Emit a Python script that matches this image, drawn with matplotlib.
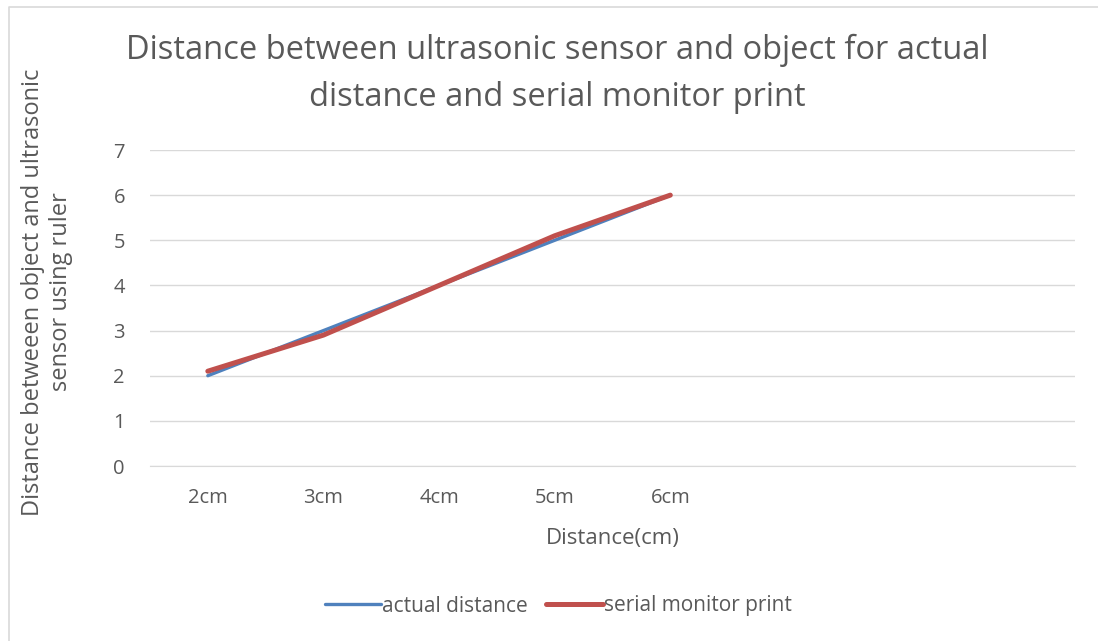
#!/usr/bin/env python3
# Line chart: ultrasonic sensor reading vs actual distance

import matplotlib.pyplot as plt
from matplotlib.lines import Line2D

plt.rcParams['font.family'] = ['Open Sans', 'DejaVu Sans']

# Data
categories = ['2cm', '3cm', '4cm', '5cm', '6cm', '', '', '']
actual_distance = [2, 3, 4, 5, 6]
serial_print = [2.1, 2.9, 4, 5.1, 6]

text_color = '#595959'
grid_color = '#d9d9d9'

fig = plt.figure(figsize=(10.98, 6.41), dpi=100)
W, H = 1098, 641
ax = fig.add_axes([150 / W, 1 - 466 / H, (1075 - 150) / W, (466 - 150) / H])

# Chart border (only top and left edges are visible in the crop)
fig.lines.append(Line2D([8.5 / W, 8.5 / W, 1], [0, 1 - 6.5 / H, 1 - 6.5 / H],
                        transform=fig.transFigure, color=grid_color, linewidth=1.2))

x = list(range(len(actual_distance)))
ax.plot(x, actual_distance, color='#4f81bd', linewidth=2.4, solid_capstyle='round',
        label='actual distance')
ax.plot(x, serial_print, color='#c0504d', linewidth=3.6, solid_capstyle='round',
        label='serial monitor print')

ax.set_xlim(-0.5, len(categories) - 0.5)
ax.set_ylim(0, 7)
ax.set_xticks(range(len(categories)))
ax.set_xticklabels(categories)
ax.set_yticks(range(0, 8))
ax.grid(axis='y', color=grid_color, linewidth=1)
ax.set_axisbelow(True)
for s in ['top', 'right', 'left']:
    ax.spines[s].set_visible(False)
ax.spines['bottom'].set_color(grid_color)
ax.tick_params(axis='x', length=0, pad=16, labelsize=14.5, colors=text_color)
ax.tick_params(axis='y', length=0, pad=18, labelsize=14.5, colors=text_color)

ax.set_xlabel('Distance(cm)', fontsize=16, color=text_color, labelpad=14)
ax.set_ylabel('Distance betweeen object and ultrasonic\nsensor using ruler', fontsize=17,
              color=text_color, linespacing=1.25, va='center')
ax.yaxis.set_label_coords((47 - 150) / 925, (466 - 292) / 316)

fig.text(557 / W, 1 - 74 / H, 'Distance between ultrasonic sensor and object for actual\n'
         'distance and serial monitor print', ha='center', va='center',
         fontsize=23.5, color=text_color, linespacing=1.55)

fig.legend(loc='center', bbox_to_anchor=(558 / W, 1 - 606 / H), ncol=2, frameon=False,
           fontsize=15, labelcolor=text_color, handlelength=2.7, handletextpad=0.05,
           columnspacing=0.9)

plt.savefig('out.png', dpi=100)
